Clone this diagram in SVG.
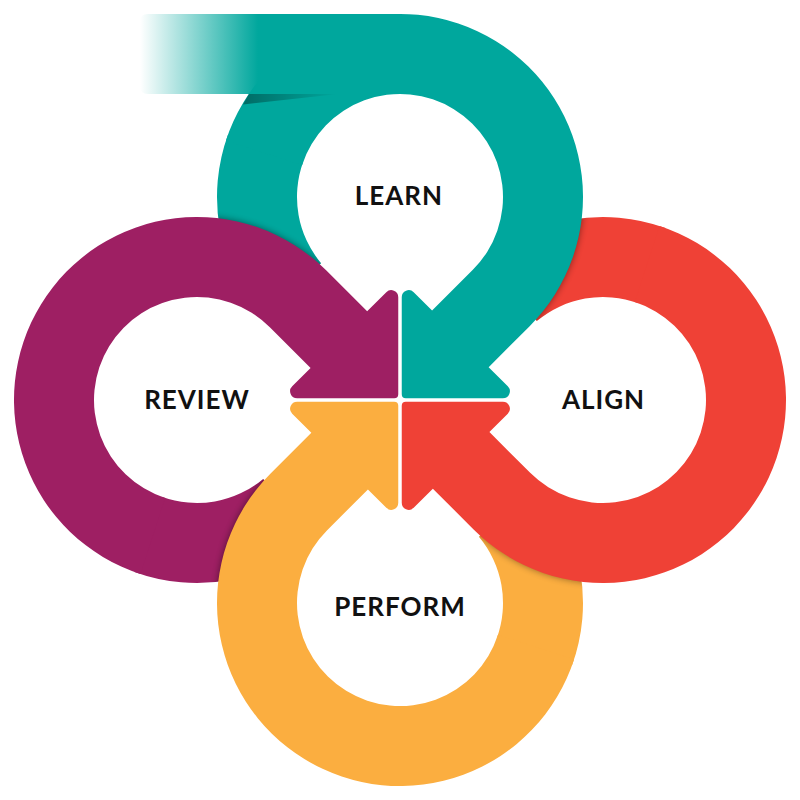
<svg xmlns="http://www.w3.org/2000/svg" xmlns:xlink="http://www.w3.org/1999/xlink" width="800" height="800" viewBox="0 0 800 800">
<style>
.lbl{font-family:Lato,"Open Sans","Liberation Sans",sans-serif;font-weight:700;font-size:26px;letter-spacing:1px;fill:#111;text-anchor:middle}
</style>
<defs>
<path id="main" d="M225.96,140.45 A183,183 0 1 1 529.40,326.40 L488.65,367.15 L507.80,386.30 A7,7 0 0 1 502.85,398.25 L405.75,398.25 A4,4 0 0 1 401.75,394.25 L401.75,297.15 A7,7 0 0 1 413.70,292.20 L432.08,310.58 L472.83,269.83 A103,103 0 1 0 302.04,165.17 Z"/>
<path id="start" d="M259.81,314.63 A183,183 0 0 1 228.04,134.41 L303.21,161.77 A103,103 0 0 0 321.10,263.21 Z"/>
<clipPath id="cs"><use xlink:href="#start"/></clipPath>
<filter id="sh" x="-10%" y="-10%" width="120%" height="120%"><feGaussianBlur stdDeviation="3.5"/></filter>
<linearGradient id="fade" gradientUnits="userSpaceOnUse" x1="140" y1="0" x2="258" y2="0"><stop offset="0" stop-color="#00a79d" stop-opacity="0"/><stop offset="1" stop-color="#00a79d" stop-opacity="1"/></linearGradient>
<linearGradient id="wg" gradientUnits="userSpaceOnUse" x1="245" y1="0" x2="338" y2="0"><stop offset="0" stop-color="#000" stop-opacity="0.35"/><stop offset="1" stop-color="#000" stop-opacity="0"/></linearGradient>
</defs>
<g id="tails">
<g fill="#00a79d"><use xlink:href="#start"/><g clip-path="url(#cs)"><use xlink:href="#main" transform="rotate(-90 400 400)" fill="#000" opacity="0.45" filter="url(#sh)"/></g></g>
<g fill="#ef4136" transform="rotate(90 400 400)"><use xlink:href="#start"/><g clip-path="url(#cs)"><use xlink:href="#main" transform="rotate(-90 400 400)" fill="#000" opacity="0.45" filter="url(#sh)"/></g></g>
<g fill="#fbae40" transform="rotate(180 400 400)"><use xlink:href="#start"/><g clip-path="url(#cs)"><use xlink:href="#main" transform="rotate(-90 400 400)" fill="#000" opacity="0.4" filter="url(#sh)"/></g></g>
<g fill="#9e1f63" transform="rotate(270 400 400)"><use xlink:href="#start"/><g clip-path="url(#cs)"><use xlink:href="#main" transform="rotate(-90 400 400)" fill="#000" opacity="0.45" filter="url(#sh)"/></g></g>
</g>
<g id="learn">
<use xlink:href="#main" fill="#00a79d"/>
<path d="M249,94 L338,94 L243,104.5 Z" fill="url(#wg)"/>
<path d="M402,14 L148,14 Q140,14 140,22 L140,86 Q140,94 148,94 L402,94 Z" fill="url(#fade)"/>
<text class="lbl" x="399" y="205">LEARN</text>
</g>
<g id="align">
<use xlink:href="#main" fill="#ef4136" transform="rotate(90 400 400)"/>
<text class="lbl" x="603.5" y="409">ALIGN</text>
</g>
<g id="perform">
<use xlink:href="#main" fill="#fbae40" transform="rotate(180 400 400)"/>
<text class="lbl" x="400" y="616">PERFORM</text>
</g>
<g id="review">
<use xlink:href="#main" fill="#9e1f63" transform="rotate(270 400 400)"/>
<text class="lbl" x="197" y="409">REVIEW</text>
</g>
</svg>
